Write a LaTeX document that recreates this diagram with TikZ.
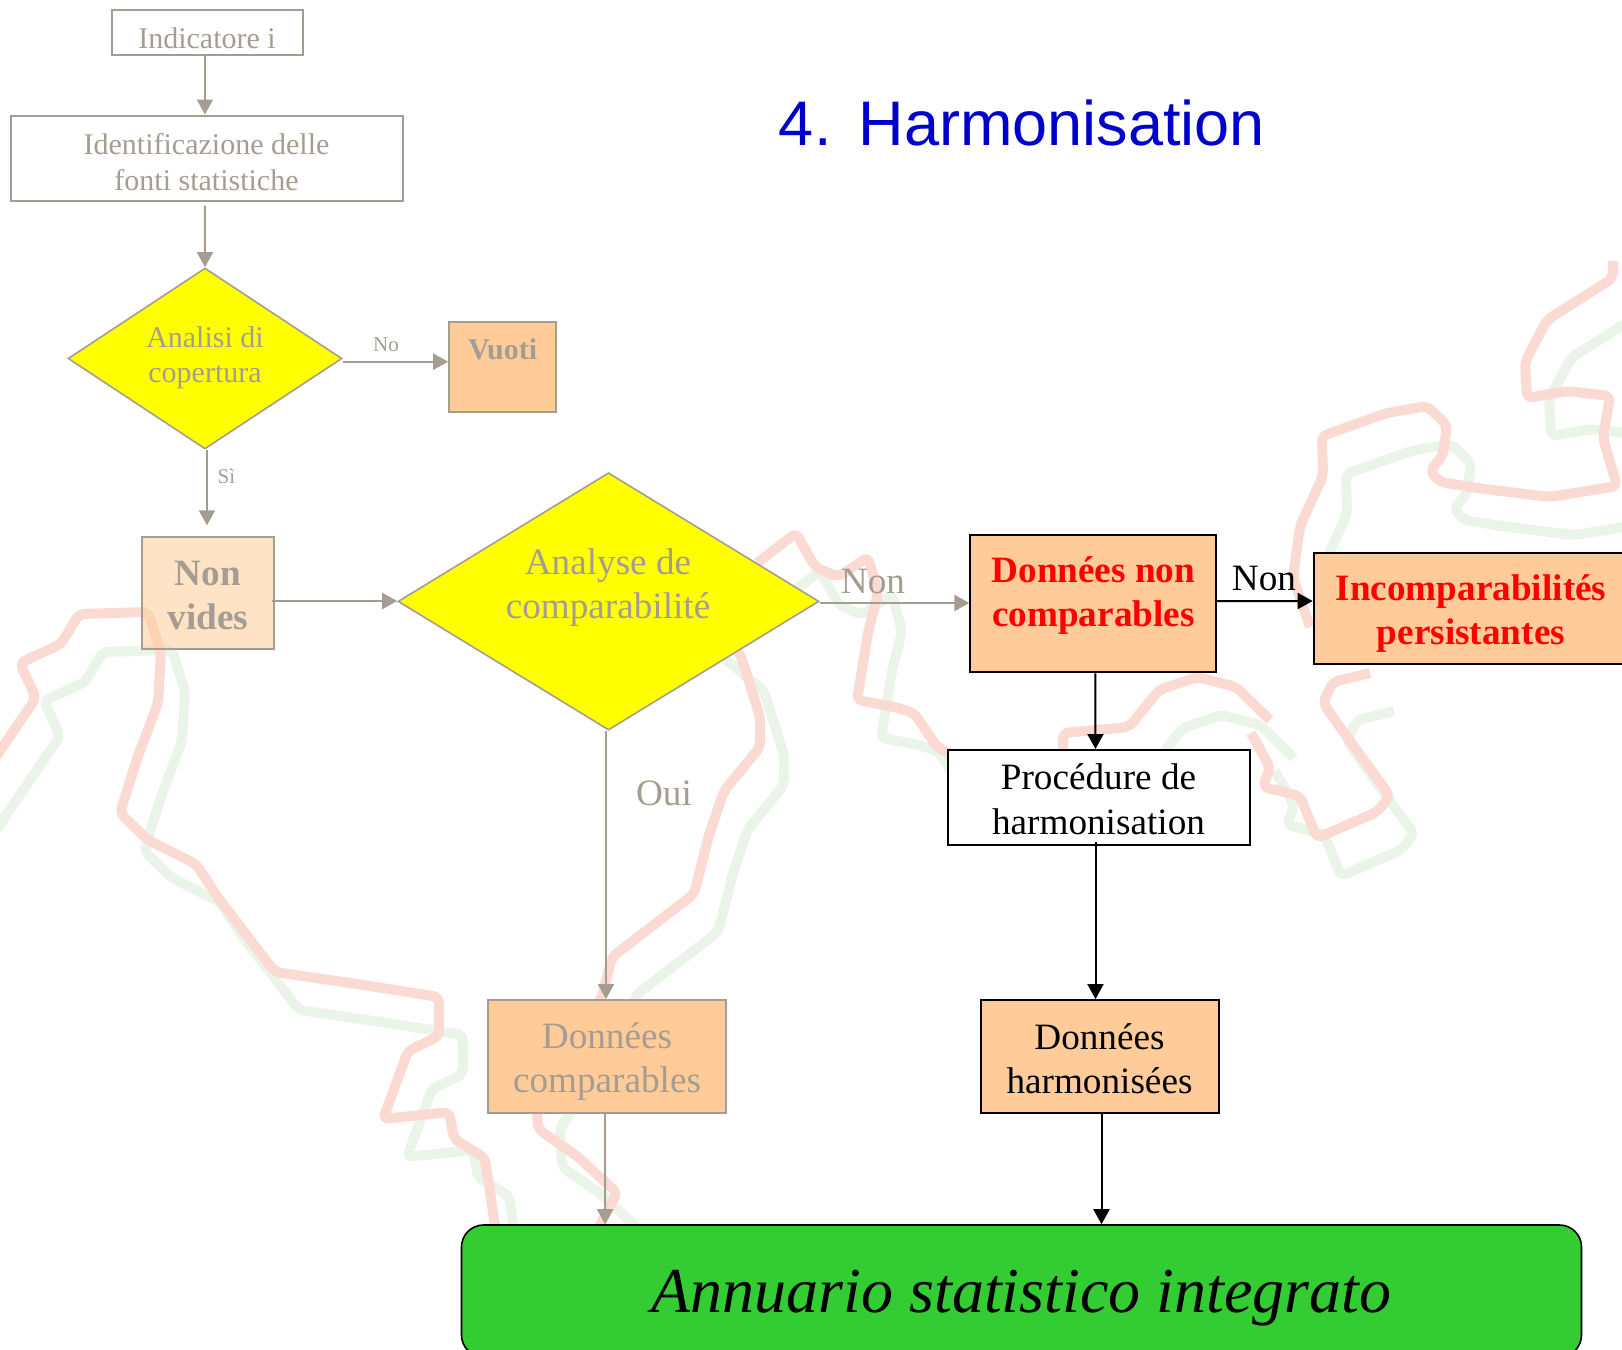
\documentclass[tikz,border=0pt]{standalone}
\usepackage{fontspec}
\setmainfont{Liberation Serif}
\newfontfamily\titlefont{Liberation Sans}
\usetikzlibrary{arrows.meta,shapes.geometric}
\definecolor{faded}{HTML}{A59D91}
\definecolor{peach}{HTML}{FFCC99}
\definecolor{mapred}{HTML}{FBDAD3}
\definecolor{mapgreen}{HTML}{EBF4E8}
\definecolor{annuario}{HTML}{33CC33}
\definecolor{decision}{HTML}{FFFF00}
\tikzset{
    box/.style={draw=black,line width=1pt,inner sep=0pt,align=center},
    fadedbox/.style={box,draw=faded},
    flow/.style={line width=1pt,-{Triangle[length=7.5pt,width=8pt]}},
    gone/.style={flow,draw=faded,fill=faded},
    gonetext/.style={text=faded,inner sep=0pt,align=center},
    boxtext/.style={inner sep=0pt,align=center},
    bigtext/.style={font=\fontsize{18.6}{22}\selectfont},
    smalltext/.style={font=\fontsize{15}{17.7}\selectfont},
    boldtext/.style={font=\bfseries\fontsize{18.6}{22}\selectfont},
    map/.style={line width=5pt,rounded corners=3pt},
}

\begin{document}
\begin{tikzpicture}[x=.5pt,y=-.5pt]
    \useasboundingbox (0,0) rectangle (1622,1349);
    \clip (0,0) rectangle (1622,1349);
    % Map of the country behind the chart, once in red and once in green
    \foreach \mapcol/\dx/\dy in {mapgreen/24/38,mapred/0/0} {
        \draw[\mapcol,map,shift={(\dx,\dy)}]
            (-30,795) -- (36,698) -- (20,663) -- (61,644) -- (79,614) -- (148,612)
            -- (161,653) -- (158,703) -- (138,756) -- (120,813) -- (148,840) -- (196,864)
            -- (219,899) -- (275,972) -- (357,984) -- (439,997) -- (439,1036) -- (408,1051)
            -- (383,1119) -- (449,1112) -- (454,1139) -- (485,1158) -- (497,1240);
        \draw[\mapcol,map,shift={(\dx,\dy)}]
            (592,1240) -- (617,1193) -- (577,1156) -- (538,1129) -- (536,1090) -- (602,997)
            -- (612,957) -- (694,894) -- (709,835) -- (724,791) -- (760,747) -- (760,717)
            -- (740,653) -- (700,620);
        \draw[\mapcol,map,shift={(\dx,\dy)}]
            (757,563) -- (796,533) -- (815,567) -- (838,577) -- (868,557) -- (878,593)
            -- (868,633) -- (857,700) -- (895,707) -- (914,713) -- (937,747) -- (1000,780);
        \draw[\mapcol,map,shift={(\dx,\dy)}]
            (1063,760) -- (1063,733) -- (1129,727) -- (1159,690) -- (1197,677) -- (1236,687)
            -- (1270,720);
        \draw[\mapcol,map,shift={(\dx,\dy)}]
            (1251,733) -- (1270,767) -- (1263,787) -- (1300,796) -- (1317,838) -- (1377,812)
            -- (1390,796) -- (1347,737) -- (1323,703) -- (1333,682) -- (1370,673);
        \draw[\mapcol,map,shift={(\dx,\dy)}]
            (1310,627) -- (1293,577) -- (1300,526) -- (1323,476) -- (1322,436) -- (1387,413)
            -- (1427,406) -- (1447,425) -- (1443,455) -- (1430,471) -- (1440,482) -- (1477,488)
            -- (1550,497) -- (1617,486) -- (1603,438) -- (1610,396) -- (1567,391) -- (1527,398)
            -- (1525,362) -- (1547,320) -- (1613,278) -- (1613,261);
    }

    % Title
    \node[inner sep=0pt] (title) at (1022,123) {\titlefont\fontsize{31.5}{36}\selectfont\color[HTML]{0000CC}4.\hspace{2pt} Harmonisation};

    % Left column, the part already seen
    \node[fadedbox,minimum width=95.7pt,minimum height=22.3pt] (indicatore) at (207.5,32.7) {};
    \node[gonetext,smalltext] (indicatoretext) at (207,38.5) {Indicatore i};
    \node[fadedbox,minimum width=196pt,minimum height=42.5pt] (fonti) at (206.5,158) {};
    \node[gonetext,smalltext] (fontitext) at (206.5,162) {Identificazione delle\\fonti statistiche};
    \node[diamond,draw=faded,fill=decision,line width=.8pt,minimum width=137pt,minimum height=90.5pt,
        inner sep=0pt,aspect=1.5] (copertura) at (205,358.5) {};
    \node[gonetext,smalltext] (coperturatext) at (205,358) {Analisi di\\copertura};
    \node[fadedbox,fill=peach,minimum width=53.5pt,minimum height=45pt] (vuoti) at (502.7,366.7) {};
    \node[gonetext,font=\bfseries\fontsize{15}{18}\selectfont] (vuotitext) at (502.7,349) {Vuoti};
    \node[fadedbox,fill=peach,fill opacity=.55,minimum width=66pt,minimum height=56pt] (nonvides) at (207.8,592.8) {};
    \node[gonetext,boldtext] (nonvidestext) at (207.8,595) {Non\\vides};

    % Second decision and its two branches
    \node[diamond,draw=faded,fill=decision,line width=.8pt,minimum width=210.5pt,minimum height=128.7pt,
        inner sep=0pt] (comparabilite) at (608.5,601.4) {};
    \node[gonetext,bigtext] (comparabilitetext) at (608,588) {Analyse de\\comparabilité};
    \node[fadedbox,fill=peach,minimum width=119pt,minimum height=56.4pt] (comparables) at (607,1056.5) {};
    \node[gonetext,font=\fontsize{18.6}{21.7}\selectfont] (comparablestext) at (607,1061.5) {Données\\comparables};
    \node[box,fill=peach,minimum width=123pt,minimum height=68.8pt] (noncomp) at (1093.4,603.6) {};
    \node[boxtext,text=red,boldtext] (noncomptext) at (1093.4,596) {Données non\\comparables};
    \node[box,fill=peach,minimum width=186pt,minimum height=55.3pt] (incomp) at (1499.7,608.7) {};
    \node[boxtext,text=red,boldtext] (incomptext) at (1471,613.5) {Incomparabilités\\persistantes};
    \node[box,fill=white,minimum width=151pt,minimum height=47.5pt] (procedure) at (1098.5,797.5) {};
    \node[boxtext,font=\fontsize{18.6}{22.6}\selectfont] (proceduretext) at (1098.5,799.5) {Procédure de\\harmonisation};
    \node[box,fill=peach,minimum width=119pt,minimum height=56.4pt] (harmonisees) at (1099.5,1056.5) {};
    \node[boxtext,bigtext] (harmoniseestext) at (1099.5,1058.5) {Données\\harmonisées};
    \node[draw=black,fill=annuario,line width=.8pt,rounded corners=11pt,minimum width=560pt,minimum height=66pt,inner sep=0pt] (annuaire) at (1021.5,1291) {};
    \node[inner sep=0pt,font=\itshape\fontsize{32}{38}\selectfont] (annuairetext) at (1021.5,1298) {Annuario statistico integrato};

    % Connectors
    \draw[gone] ([xshift=-1.3pt]indicatore.south) -- ([xshift=-.8pt]fonti.north);
    \draw[gone] ([xshift=-.8pt,yshift=-2pt]fonti.south) -- (copertura.north);
    \draw[gone] (copertura.east |- vuoti.west) ++(0,-5) -- ([yshift=2.5pt]vuoti.west);
    \draw[gone] ([xshift=1pt]copertura.south) -- ([xshift=-.4pt,yshift=5.2pt]nonvides.north);
    \draw[gone] ([xshift=-1.5pt,yshift=-4.1pt]nonvides.east) -- ([yshift=.2pt]comparabilite.west);
    \draw[gone] ([yshift=-.8pt]comparabilite.east) -- ([yshift=.3pt]noncomp.west);
    \draw[flow] ([xshift=-1pt,yshift=1.3pt]noncomp.east) -- ([yshift=3.85pt]incomp.west);
    \draw[gone] ([xshift=-1.25pt]comparabilite.south) -- ([xshift=-.5pt]comparables.north);
    \draw[gone] ([xshift=-1pt]comparables.south) -- ([xshift=-208.2pt]annuaire.north);
    \draw[flow] ([xshift=1pt]noncomp.south) -- ([xshift=-1.5pt]procedure.north);
    \draw[flow] ([xshift=-1.5pt,yshift=2pt]procedure.south) -- ([xshift=-2pt]harmonisees.north);
    \draw[flow] ([xshift=1pt]harmonisees.south) -- ([xshift=40pt]annuaire.north);

    % Labels on the branches
    \node[gonetext,font=\fontsize{10.5}{12}\selectfont] (no) at (386,345) {No};
    \node[gonetext,font=\fontsize{10.5}{12}\selectfont] (si) at (226.5,476) {Sì};
    \node[gonetext,bigtext] (non) at (873,581) {Non};
    \node[gonetext,bigtext] (oui) at (664,793) {Oui};
    \node[inner sep=0pt,bigtext] (nonblack) at (1264,578) {Non};
\end{tikzpicture}
\end{document}
